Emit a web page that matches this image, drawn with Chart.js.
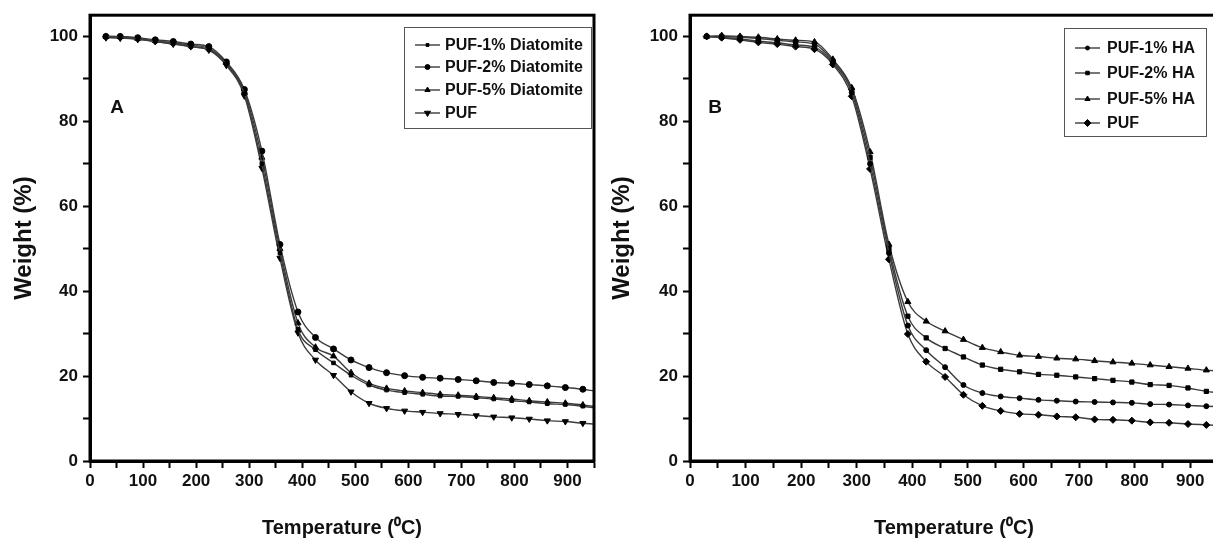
<!DOCTYPE html>
<html>
<head>
<meta charset="utf-8">
<script src="https://cdn.jsdelivr.net/npm/chart.js@4.4.1/dist/chart.umd.min.js"></script>
<style>
  html, body { margin: 0; padding: 0; background: #fff; overflow: hidden; }
  #wrap { position: relative; width: 1213px; height: 551px; overflow: hidden; }
  #chartA { position: absolute; left: 0; top: 0; }
  #chartB { position: absolute; left: 600px; top: 0; }
</style>
</head>
<body>
<div id="wrap">
  <canvas id="chartA" width="600" height="551"></canvas>
  <canvas id="chartB" width="624" height="551"></canvas>
</div>
<script>
// temperature points (degC), shared by both panels
const temps = [30, 57, 90, 123, 157, 190, 224, 257, 291, 324, 358, 392, 425, 459, 492, 526, 559, 593, 627, 660, 694, 728, 761, 795, 828, 862, 896, 929, 950];

// panel A - diatomite
const dia1 = [100, 99.8, 99.4, 98.8, 98.3, 97.6, 96.9, 93.5, 86.5, 70, 49, 31, 26.2, 23.1, 20.2, 17.9, 16.7, 16.1, 15.7, 15.3, 15.2, 14.9, 14.6, 14.2, 13.9, 13.5, 13.3, 12.9, 12.5];
const dia2 = [100, 100, 99.7, 99.2, 98.8, 98.2, 97.6, 94, 87.5, 73, 51, 35.1, 29.1, 26.4, 23.8, 22.0, 20.8, 20.1, 19.7, 19.5, 19.2, 18.9, 18.5, 18.3, 18.0, 17.7, 17.3, 16.9, 16.5];
const dia5 = [100, 99.9, 99.5, 99.0, 98.5, 97.9, 97.2, 93.8, 87, 71.5, 50, 32.5, 26.8, 24.7, 20.8, 18.3, 17.1, 16.5, 16.1, 15.7, 15.5, 15.2, 14.9, 14.6, 14.2, 13.9, 13.6, 13.2, 12.8];
const pufA = [99.7, 99.6, 99.3, 98.8, 98.2, 97.6, 96.8, 93.2, 86, 69, 47.8, 30.2, 23.8, 20.2, 16.3, 13.6, 12.4, 11.8, 11.5, 11.2, 11.0, 10.7, 10.4, 10.2, 9.9, 9.5, 9.3, 8.9, 8.7];

// panel B - HA
const ha1 = [100, 99.8, 99.4, 98.9, 98.5, 98.0, 97.5, 93.8, 86.8, 70, 49, 31.9, 26.1, 22.1, 17.9, 16.0, 15.2, 14.8, 14.4, 14.2, 14.0, 13.9, 13.8, 13.7, 13.4, 13.3, 13.1, 12.9, 12.8];
const ha2 = [100, 100, 99.8, 99.5, 99.1, 98.7, 98.2, 94.2, 87.4, 71.5, 50, 34.1, 29.0, 26.5, 24.5, 22.6, 21.6, 21.0, 20.4, 20.2, 19.8, 19.4, 19.0, 18.6, 18.0, 17.8, 17.2, 16.4, 16.1];
const ha5 = [100, 100.2, 100, 99.8, 99.4, 99.1, 98.7, 94.6, 87.9, 72.8, 51, 37.5, 32.9, 30.6, 28.6, 26.7, 25.7, 24.9, 24.6, 24.2, 24.0, 23.6, 23.3, 23.0, 22.6, 22.2, 21.8, 21.4, 21.2];
const pufB = [100, 99.7, 99.2, 98.6, 98.2, 97.6, 97.0, 93.4, 85.9, 68.8, 47.5, 29.9, 23.4, 19.8, 15.6, 13.0, 11.8, 11.1, 10.9, 10.5, 10.3, 9.8, 9.7, 9.5, 9.1, 9.0, 8.7, 8.5, 8.4];

const xTicks = [0, 100, 200, 300, 400, 500, 600, 700, 800, 900];
const yTicks = [0, 20, 40, 60, 80, 100];

const FONT = '"Liberation Sans", Arial, sans-serif';

function series(label, vals, style, r, rot) {
	return {
		label: label,
		data: temps.map((t, i) => ({x: t, y: vals[i]})),
		borderColor: '#3c3c3c',
		borderWidth: 1.4,
		pointStyle: style,
		pointRotation: rot || 0,
		pointRadius: ctx => ctx.dataIndex === temps.length - 1 ? 0 : r,
		pointBackgroundColor: '#000',
		pointBorderColor: '#000',
		pointBorderWidth: 1,
		cubicInterpolationMode: 'monotone',
		fill: false
	};
}

// major + minor tick positions (minor ones get no label)
function tickSet(max, step) {
	const out = [];
	for (let v = 0; v <= max; v += step) out.push({value: v});
	return out;
}

// frame, in-plot legend and panel letter
const decor = {
	id: 'decor',
	afterDraw(chart, args, o) {
		const ctx = chart.ctx, a = chart.chartArea;
		ctx.save();
		ctx.strokeStyle = '#000';
		ctx.lineWidth = 3;
		ctx.strokeRect(a.left, a.top, a.right - a.left, a.bottom - a.top);

		// legend box
		ctx.lineWidth = 1;
		ctx.strokeStyle = '#555';
		ctx.strokeRect(o.box[0] + 0.5, o.box[1] + 0.5, o.box[2], o.box[3]);
		ctx.font = 'bold ' + o.fontSize + 'px ' + FONT;
		ctx.textBaseline = 'middle';
		chart.data.datasets.forEach((ds, i) => {
			const y = o.rows[i];
			ctx.strokeStyle = '#3c3c3c';
			ctx.lineWidth = 1.4;
			ctx.beginPath();
			ctx.moveTo(o.lineX[0], y);
			ctx.lineTo(o.lineX[1], y);
			ctx.stroke();
			const cx = (o.lineX[0] + o.lineX[1]) / 2;
			ctx.fillStyle = '#000';
			ctx.strokeStyle = '#000';
			ctx.lineWidth = 1;
			Chart.helpers.drawPoint(ctx, {pointStyle: ds.pointStyle, rotation: ds.pointRotation, radius: o.markR[i], borderWidth: 1}, cx, y);
			ctx.fillStyle = '#111';
			ctx.fillText(ds.label, o.textX, y + 1);
		});

		ctx.font = 'bold 19px ' + FONT;
		ctx.textAlign = 'center';
		ctx.fillText(o.letter, o.letterPos[0], o.letterPos[1]);
		ctx.restore();
	}
};

function makeOptions(dec, yTitlePad) {
	const tickFont = {family: FONT, size: 17, weight: 'bold'};
	return {
		responsive: false,
		animation: false,
		layout: {padding: {top: 14, right: 6, left: 0, bottom: 0}},
		plugins: {legend: {display: false}, tooltip: {enabled: false}, decor: dec},
		scales: {
			x: {
				type: 'linear', min: 0, max: 950,
				afterBuildTicks: s => { s.ticks = tickSet(950, 50); },
				ticks: {autoSkip: false, maxRotation: 0, color: '#111', font: tickFont, padding: 3,
					callback: v => xTicks.includes(v) ? String(v) : ''},
				grid: {drawOnChartArea: false, color: '#000', tickLength: 7, tickWidth: 2},
				border: {color: '#000', width: 3},
				title: {display: true, text: 'Temperature (\u2070C)', color: '#111',
					font: {family: FONT, size: 20, weight: 'bold'}, padding: {top: 0, bottom: 11}},
				afterFit: s => { s.height = 90; }
			},
			y: {
				min: 0, max: 105,
				afterBuildTicks: s => { s.ticks = tickSet(100, 10); },
				ticks: {autoSkip: false, color: '#111', font: tickFont, padding: 5,
					callback: v => yTicks.includes(v) ? String(v) : ''},
				grid: {drawOnChartArea: false, color: '#000', tickLength: 7, tickWidth: 2},
				border: {color: '#000', width: 3},
				title: {display: true, text: 'Weight (%)', color: '#111',
					font: {family: FONT, size: 24, weight: 'bold'}, padding: {top: yTitlePad, bottom: 0}},
				afterFit: s => { s.width = 90; }
			}
		}
	};
}

Chart.register(decor);

new Chart(document.getElementById('chartA'), {
	type: 'line',
	data: {datasets: [
		series('PUF-1% Diatomite', dia1, 'rect', 2.5),
		series('PUF-2% Diatomite', dia2, 'circle', 3),
		series('PUF-5% Diatomite', dia5, 'triangle', 3.5),
		series('PUF', pufA, 'triangle', 3.5, 180)
	]},
	options: makeOptions({
		box: [404, 27, 187, 101], rows: [45, 67, 90, 113], lineX: [415, 440], textX: 445,
		fontSize: 16, markR: [2, 2.5, 3, 3.5], letter: 'A', letterPos: [117, 108]
	}, 10)
});

new Chart(document.getElementById('chartB'), {
	type: 'line',
	data: {datasets: [
		series('PUF-1% HA', ha1, 'circle', 2.5),
		series('PUF-2% HA', ha2, 'rect', 3),
		series('PUF-5% HA', ha5, 'triangle', 3.5),
		series('PUF', pufB, 'rectRot', 3.5)
	]},
	options: makeOptions({
		box: [464, 28, 142, 108], rows: [48, 73, 99, 123], lineX: [475, 500], textX: 507,
		fontSize: 16, markR: [2, 2.5, 3, 3.5], letter: 'B', letterPos: [115, 108]
	}, 8)
});
</script>
</body>
</html>
